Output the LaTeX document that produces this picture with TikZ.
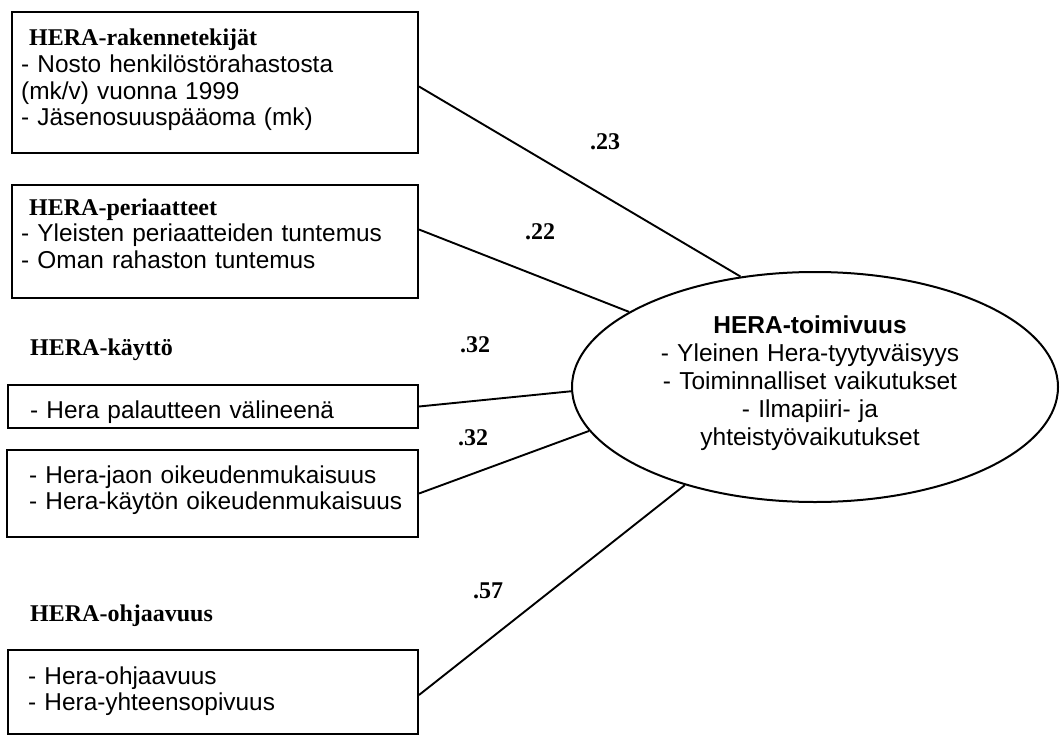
\documentclass[tikz,border=0pt]{standalone}
\usepackage{fontspec}
\setmainfont{Liberation Serif}
\setsansfont{Liberation Sans}
\usetikzlibrary{shapes.geometric}
\tikzset{
  boxnode/.style={draw, rectangle, line width=2pt, inner sep=0pt},
  ellnode/.style={draw, ellipse, line width=2pt, inner sep=0pt},
  boxtext/.style={anchor=base west, inner sep=0pt, text width=395pt, align=left,
    font=\sffamily\fontsize{24.4}{26.8}\selectfont},
  elltext/.style={anchor=base, inner sep=0pt, text width=420pt, align=center,
    font=\sffamily\fontsize{24.5}{28}\selectfont},
  grouplabel/.style={anchor=base west, inner sep=0pt,
    font=\rmfamily\bfseries\fontsize{24}{26.8}\selectfont},
  coef/.style={inner sep=0pt, font=\rmfamily\bfseries\fontsize{24}{26}\selectfont},
  link/.style={line width=1.9pt}
}
\newcommand{\hd}[1]{\hspace*{8pt}{\rmfamily\bfseries\fontsize{24}{26.8}\selectfont #1}}
\begin{document}
\begin{tikzpicture}[x=1pt,y=-1pt]
\useasboundingbox (0,0) rectangle (1061,736);
% boxes
\node[boxnode, minimum width=406pt, minimum height=141pt] (b1) at (215,82.5) {};
\node[boxnode, minimum width=406pt, minimum height=113pt] (b2) at (215,241.5) {};
\node[boxnode, minimum width=410pt, minimum height=43pt] (b3) at (213,406.5) {};
\node[boxnode, minimum width=411pt, minimum height=87pt] (b4) at (212.5,493.5) {};
\node[boxnode, minimum width=410pt, minimum height=84pt] (b5) at (213,692) {};
% ellipse
\node[ellnode, minimum width=486pt, minimum height=230pt] (e) at (815,387) {};
% texts
\node[boxtext] (t1) at (21,45.5) {\hd{HERA-rakennetekijät}\\- Nosto henkilöstörahastosta\\(mk/v) vuonna 1999\\- Jäsenosuuspääoma (mk)};
\node[boxtext] (t2) at (21,215) {\hd{HERA-periaatteet}\\- Yleisten periaatteiden tuntemus\\- Oman rahaston tuntemus};
\node[grouplabel] (g3) at (30,355) {HERA-käyttö};
\node[boxtext] (t3) at (30,418) {- Hera palautteen välineenä};
\node[boxtext] (t4) at (29,483) {- Hera-jaon oikeudenmukaisuus\\- Hera-käytön oikeudenmukaisuus};
\node[grouplabel] (g5) at (30,621) {HERA-ohjaavuus};
\node[boxtext] (t5) at (28,684) {- Hera-ohjaavuus\\- Hera-yhteensopivuus};
\node[elltext] (te) at (810,333) {\textbf{HERA-toimivuus}\\- Yleinen Hera-tyytyväisyys\\- Toiminnalliset vaikutukset\\- Ilmapiiri- ja\\yhteistyövaikutukset};
% connectors
\draw[link] ([yshift=-4pt]b1.east) -- (e.124);
\draw[link] ([yshift=12pt]b2.east) -- (e.158);
\draw[link] (b3.east) -- (e.181.5);
\draw[link] (b4.east) -- (e.191);
\draw[link] ([yshift=-3pt]b5.east) -- (e.217);
% coefficients
\node[coef] (c1) at (605,142) {.23};
\node[coef] (c2) at (540,232) {.22};
\node[coef] (c3) at (475,345) {.32};
\node[coef] (c4) at (473,438) {.32};
\node[coef] (c5) at (488,591) {.57};
\end{tikzpicture}
\end{document}
